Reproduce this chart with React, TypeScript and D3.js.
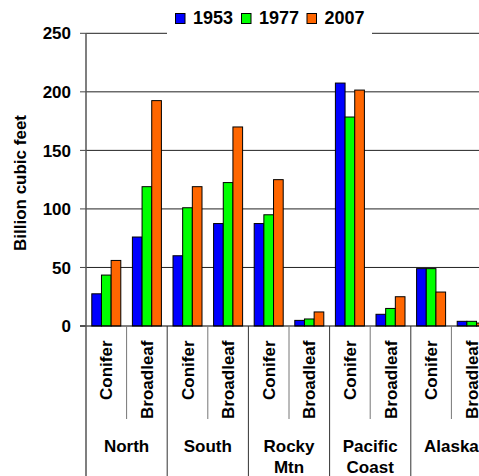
import React from "react";
import * as d3 from "d3";

const regions = ["North", "South", "Rocky Mtn", "Pacific Coast", "Alaska"];
const types = ["Conifer", "Broadleaf"];
const series = ["1953", "1977", "2007"];
const colors = ["#0000FF", "#00FF00", "#FF6600"];
const v1953 = [27.5, 76, 60, 87.5, 87.5, 4.8, 207.5, 10, 49, 4];
const v1977 = [43.5, 119, 101, 122.5, 95, 6, 178.5, 15, 49, 4];
const v2007 = [56, 192.5, 119, 170, 125, 12, 201.5, 25, 29, 2.5];
const yTicks = [0, 50, 100, 150, 200, 250];

const W = 479;
const H = 476;
const FONT = "'Liberation Sans', Arial, sans-serif";

export default function App() {
  const cats = regions.flatMap((r) => types.map((t) => `${r}|${t}`));
  const values = [v1953, v1977, v2007];
  const x = d3.scaleBand<string>().domain(cats).range([86, 492]).paddingInner(0).paddingOuter(0);
  const xs = d3.scaleBand<string>().domain(series).range([0, x.bandwidth()]).paddingInner(0).paddingOuter(0.6);
  const y = d3.scaleLinear().domain([0, 250]).range([326, 33.3]);
  const regionW = x.bandwidth() * 2;

  return (
    <svg width={W} height={H} style={{ position: "absolute", left: 0, top: 0, background: "#fff" }} fontFamily={FONT} fontWeight="bold">
      {/* gridlines */}
      {yTicks.filter((t) => t > 0).map((t) => (
        <line key={t} x1={86} x2={W} y1={y(t)} y2={y(t)} stroke="#222" strokeWidth={1} />
      ))}
      {/* ticks and labels */}
      {yTicks.map((t) => (
        <g key={t}>
          <line x1={80} x2={86} y1={y(t)} y2={y(t)} stroke="#444" />
          <text x={71} y={y(t)} dy="0.36em" textAnchor="end" fontSize={17} fill="#000">{t}</text>
        </g>
      ))}
      {/* bars */}
      {cats.map((c, i) => (
        <g key={c}>
          {series.map((s, k) => (
            <rect key={s} x={(x(c) as number) + (xs(s) as number)} y={y(values[k][i])} width={xs.bandwidth()} height={y(0) - y(values[k][i])} fill={colors[k]} stroke="#000" strokeWidth={1} />
          ))}
        </g>
      ))}
      {/* x axis baseline */}
      <line x1={80} x2={W} y1={y(0)} y2={y(0)} stroke="#000" strokeWidth={1} />
      {/* y axis */}
      <line x1={86} x2={86} y1={33} y2={H} stroke="#555" strokeWidth={1.5} />
      {/* category separators */}
      {cats.map((c, i) => {
        if (i === 0) return null;
        const isRegion = i % 2 === 0;
        return (
          <line key={c} x1={x(c) as number} x2={x(c) as number} y1={y(0)} y2={isRegion ? H : 419} stroke={isRegion ? "#333" : "#777"} strokeWidth={1} />
        );
      })}
      {/* category labels */}
      {cats.map((c) => {
        const cx = (x(c) as number) + x.bandwidth() / 2;
        const t = c.split("|")[1];
        return (
          <text key={c} transform={`translate(${cx},340.5) rotate(-90)`} dy="0.36em" textAnchor="end" fontSize={17} fill="#000">{t}</text>
        );
      })}
      {/* region labels */}
      {regions.map((r, j) => {
        const cx = 86 + regionW * j + regionW / 2;
        const parts = r.split(" ");
        return (
          <text key={r} x={cx} y={451.5} textAnchor="middle" fontSize={17} fill="#000">
            {parts.map((p, pi) => (
              <tspan key={p} x={cx} dy={pi === 0 ? 0 : 21.7}>{p}</tspan>
            ))}
          </text>
        );
      })}
      {/* y title */}
      <text transform="translate(26,183) rotate(-90)" textAnchor="middle" fontSize={17} fill="#000">Billion cubic feet</text>
      {/* legend */}
      <rect x={167} y={4} width={205} height={30} fill="#fff" />
      {series.map((s, k) => {
        const lx = [175.5, 241.5, 307][k];
        return (
          <g key={s}>
            <rect x={lx} y={13.5} width={9.5} height={10} fill={colors[k]} stroke="#000" strokeWidth={1} />
            <text x={lx + 17.5} y={24} fontSize={18} fill="#000">{s}</text>
          </g>
        );
      })}
    </svg>
  );
}
